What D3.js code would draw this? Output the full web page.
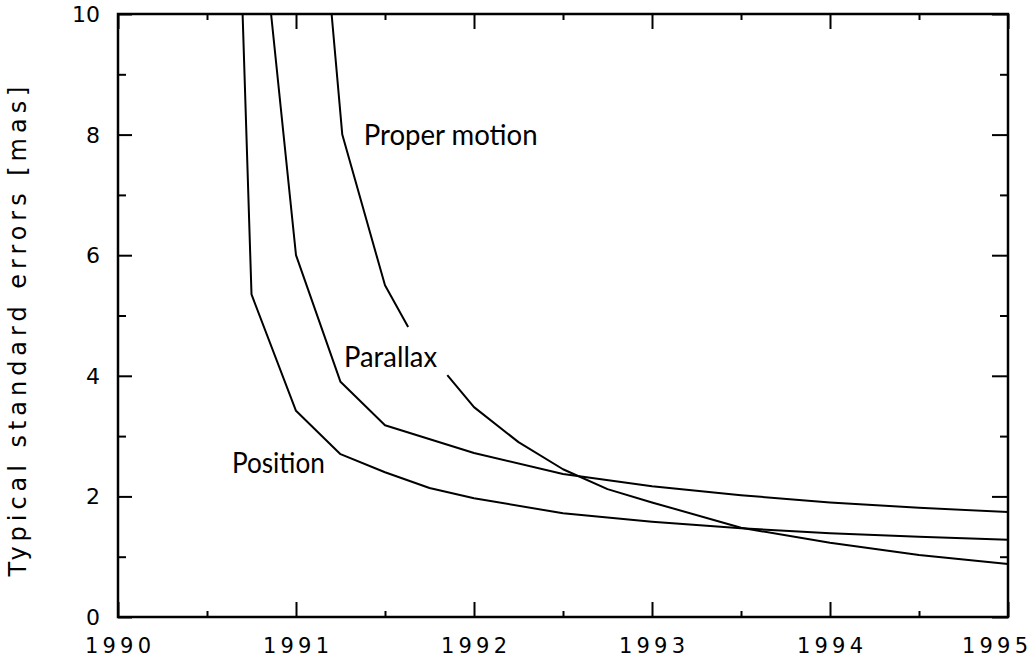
<!DOCTYPE html>
<html>
<head>
<meta charset="utf-8">
<script src="https://cdn.jsdelivr.net/npm/d3@7"></script>
<style>
  body { margin: 0; background: #fff; }
  svg { display: block; }
  .tick-label { font-family: "DejaVu Sans", sans-serif; font-size: 21px; fill: #000; }
  .curve-label { font-family: "Lato", "DejaVu Sans", sans-serif; font-size: 28px; fill: #000; }
</style>
</head>
<body>
<div id="chart"></div>
<script>
// values (years, mas); null = break in the drawn line
const positionYears = [1990.70, 1990.75, 1991.0, 1991.25, 1991.5, 1991.75, 1992.0, 1992.5, 1993.0, 1993.5, 1994.0, 1994.5, 1995.0];
const positionErr   = [10, 5.35, 3.42, 2.70, 2.40, 2.14, 1.97, 1.72, 1.58, 1.47, 1.39, 1.33, 1.28];

const parallaxYears = [1990.86, 1991.0, 1991.25, 1991.5, 1992.0, 1992.5, 1993.0, 1993.5, 1994.0, 1994.5, 1995.0];
const parallaxErr   = [10, 6.0, 3.9, 3.18, 2.72, 2.37, 2.17, 2.02, 1.90, 1.81, 1.74];

const properYears = [1991.2, 1991.26, 1991.5, 1991.63, 1991.74, 1991.85, 1992.0, 1992.25, 1992.5, 1992.75, 1993.0, 1993.5, 1994.0, 1994.5, 1995.0];
const properErr   = [10, 8.0, 5.5, 4.81, null, 4.01, 3.48, 2.9, 2.45, 2.12, 1.9, 1.48, 1.23, 1.03, 0.88];

const xTickValues = [1990, 1991, 1992, 1993, 1994, 1995];
const yTickValues = [0, 2, 4, 6, 8, 10];

const curveLabels = [
  { text: "Proper motion", year: 1991.38, val: 7.83, len: 174 },
  { text: "Parallax", year: 1991.27, val: 4.15, len: 93 },
  { text: "Position", year: 1990.64, val: 2.39, len: 93 }
];

let margin = { top: 14, right: 26, bottom: 45, left: 118 };
let width = 1034 - margin.left - margin.right;
let height = 662 - margin.top - margin.bottom;

let svg = d3.select("#chart").append("svg")
  .attr("width", 1034)
  .attr("height", 662)
  .append("g")
  .attr("transform", "translate(" + margin.left + "," + margin.top + ")");

let x = d3.scaleLinear().domain([1990, 1995]).range([0, width]);
let y = d3.scaleLinear().domain([0, 10]).range([height, 0]);

// frame
svg.append("rect")
  .attr("x", 0).attr("y", 0)
  .attr("width", width).attr("height", height)
  .attr("fill", "none")
  .attr("stroke", "#000")
  .attr("stroke-width", 2.5);

// ticks, pointing inward on all four sides
function tickSet(axisFn, scale, values, size) {
  return axisFn(scale).tickValues(values).tickSizeInner(-size).tickSizeOuter(0).tickFormat("");
}
let xMajor = xTickValues;
let xMinor = d3.range(1990.5, 1995, 1);
let yMajor = yTickValues;
let yMinor = d3.range(1, 10, 2);

[[d3.axisBottom, height, xMajor, 15], [d3.axisBottom, height, xMinor, 6],
 [d3.axisTop, 0, xMajor, 15], [d3.axisTop, 0, xMinor, 6]].forEach(function(t) {
  let g = svg.append("g").attr("transform", "translate(0," + t[1] + ")")
    .call(tickSet(t[0], x, t[2], t[3]));
  g.select(".domain").remove();
  g.selectAll("line").attr("stroke", "#000").attr("stroke-width", 2);
});

[[d3.axisLeft, 0, yMajor, 14], [d3.axisLeft, 0, yMinor, 8],
 [d3.axisRight, width, yMajor, 16], [d3.axisRight, width, yMinor, 8]].forEach(function(t) {
  let g = svg.append("g").attr("transform", "translate(" + t[1] + ",0)")
    .call(tickSet(t[0], y, t[2], t[3]));
  g.select(".domain").remove();
  g.selectAll("line").attr("stroke", "#000").attr("stroke-width", 2);
});

// tick labels (the last one is pulled in so it stays on the page)
svg.selectAll(".xlab").data(xTickValues).enter()
  .append("text")
  .attr("class", "tick-label xlab")
  .attr("x", (d, i) => i === xTickValues.length - 1 ? width + 20 : x(d))
  .attr("y", height + 36)
  .attr("text-anchor", (d, i) => i === xTickValues.length - 1 ? "end" : "middle")
  .attr("textLength", 66)
  .attr("lengthAdjust", "spacing")
  .text(d => d);

svg.selectAll(".ylab").data(yTickValues).enter()
  .append("text")
  .attr("class", "tick-label ylab")
  .attr("x", -18)
  .attr("y", d => y(d) + 8)
  .attr("text-anchor", "end")
  .style("font-size", "22px")
  .text(d => d);

// y axis title
svg.append("text")
  .attr("class", "tick-label")
  .attr("transform", "translate(" + (-92) + "," + (height / 2 + 16) + ") rotate(-90)")
  .attr("text-anchor", "middle")
  .style("font-size", "24px")
  .attr("textLength", 490)
  .attr("lengthAdjust", "spacing")
  .text("Typical standard errors  [mas]");

// curves
let line = d3.line()
  .defined(d => d.v != null)
  .x(d => x(d.t))
  .y(d => y(d.v));

let series = [
  positionYears.map((t, i) => ({ t: t, v: positionErr[i] })),
  parallaxYears.map((t, i) => ({ t: t, v: parallaxErr[i] })),
  properYears.map((t, i) => ({ t: t, v: properErr[i] }))
];

svg.selectAll(".curve").data(series).enter()
  .append("path")
  .attr("class", "curve")
  .attr("d", line)
  .attr("fill", "none")
  .attr("stroke", "#000")
  .attr("stroke-width", 2)
  .attr("stroke-linejoin", "round");

svg.selectAll(".curve-label").data(curveLabels).enter()
  .append("text")
  .attr("class", "curve-label")
  .attr("x", d => x(d.year))
  .attr("y", d => y(d.val))
  .attr("textLength", d => d.len)
  .attr("lengthAdjust", "spacingAndGlyphs")
  .text(d => d.text);
</script>
</body>
</html>
